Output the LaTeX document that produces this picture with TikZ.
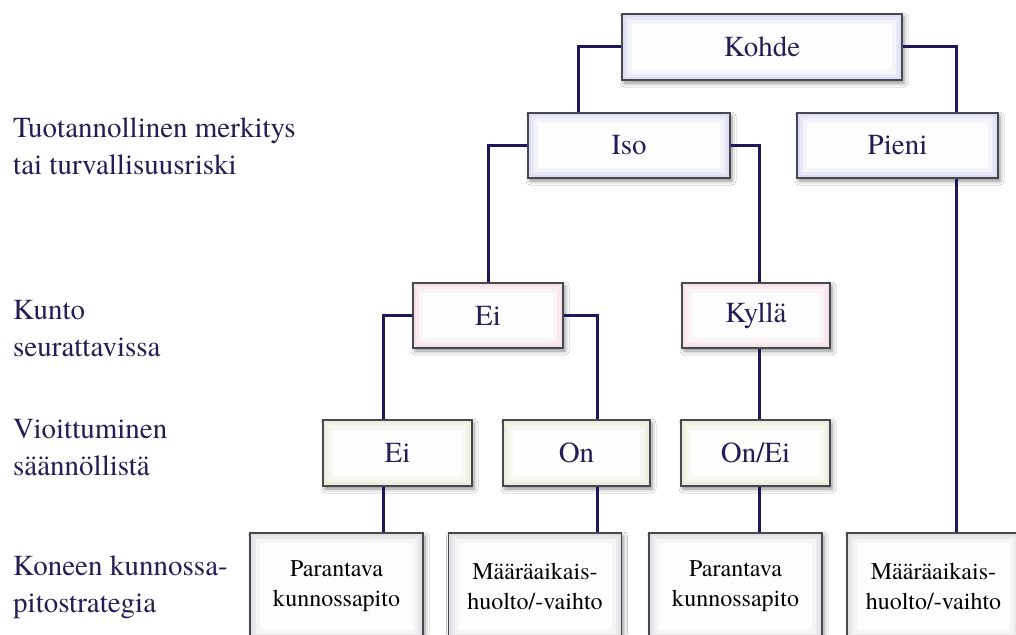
\documentclass[tikz,border=0pt]{standalone}
\usepackage{fontspec}
\IfFontExistsTF{texgyretermes-regular.otf}
	{\setmainfont{texgyretermes-regular.otf}}
	{\setmainfont{Liberation Serif}}
\usetikzlibrary{shadows.blur}
\definecolor{linkcol}{RGB}{28,24,92}
\definecolor{textcol}{RGB}{36,30,86}
\definecolor{framecol}{RGB}{72,72,80}
\definecolor{glowblue}{RGB}{220,220,244}
\definecolor{glowpink}{RGB}{246,224,232}
\definecolor{glowcream}{RGB}{236,236,218}
\definecolor{glowgray}{RGB}{224,224,226}
\tikzset{
	box/.style={draw=framecol, line width=1.2pt, inner sep=0pt, text=textcol,
		font=\fontsize{29}{35}\selectfont,
		blur shadow={shadow xshift=2pt, shadow yshift=-3pt, shadow blur radius=4pt, shadow opacity=45},
		path picture={
			\foreach \gd/\gop in {3/0.35,6/0.55,10/0.85}
			\fill[white, opacity=\gop] ([xshift=\gd pt, yshift=\gd pt]path picture bounding box.south west)
				rectangle ([xshift=-\gd pt, yshift=-\gd pt]path picture bounding box.north east);
		}},
	topbox/.style={box, fill=glowblue},
	pinkbox/.style={box, fill=glowpink, minimum height=65pt},
	creambox/.style={box, fill=glowcream, minimum height=66pt},
	stratbox/.style={box, fill=glowgray, text=black, align=center,
		minimum width=173pt, minimum height=107pt, font=\fontsize{24}{30}\selectfont},
	lbl/.style={anchor=north west, align=left, inner sep=0pt, text=textcol,
		font=\fontsize{29}{37}\selectfont},
	link/.style={draw=linkcol, line width=3pt}
}
\begin{document}
\begin{tikzpicture}[x=1pt, y=-1pt]
		\useasboundingbox (0,0) rectangle (1016,634);
		\fill[white] (0,0) rectangle (1016,634);
		\clip (0,0) rectangle (1016,634);
		
		% line columns
		\coordinate (xa) at (578,0);
		\coordinate (xb) at (956,0);
		\coordinate (xc) at (383,0);
		\coordinate (xd) at (597,0);
		\coordinate (xe) at (759,0);
		
		% row labels
		\node[lbl] (lblmerkitys) at (13,117) {Tuotannollinen merkitys\\tai turvallisuusriski};
		\node[lbl] (lblkunto) at (13,300) {Kunto\\seurattavissa};
		\node[lbl] (lblvioitt) at (13,419) {Vioittuminen\\säännöllistä};
		\node[lbl] (lblstrat) at (13,555) {Koneen kunnossa-\\pitostrategia};
		
		% tree
		\node[topbox, minimum width=280pt, minimum height=66pt] (kohde) at (762,47) {Kohde};
		\node[topbox, minimum width=202pt, minimum height=65pt] (iso) at (629,145.5) {Iso};
		\node[topbox, minimum width=201pt, minimum height=65pt] (pieni) at (897.5,145.5) {Pieni};
		\node[pinkbox, minimum width=150pt] (kuntoei) at (488,315.5) {Ei};
		\node[pinkbox, minimum width=148pt] (kuntokylla) at (756,315.5) {Kyllä};
		\node[creambox, minimum width=149pt] (vioei) at (397.5,453) {Ei};
		\node[creambox, minimum width=147pt] (vioon) at (576.5,453) {On};
		\node[creambox, minimum width=149pt] (vioonei) at (755.5,453) {On/Ei};
		\node[stratbox] (strat1) at (336.5,586.5) {Parantava\\kunnossapito};
		\node[stratbox] (strat2) at (535,586.5) {Määräaikais-\\huolto/-vaihto};
		\node[stratbox] (strat3) at (735.5,586.5) {Parantava\\kunnossapito};
		\node[stratbox] (strat4) at (933.5,586.5) {Määräaikais-\\huolto/-vaihto};
		
		\draw[link] (kohde.west) -| (iso.north -| xa);
		\draw[link] (kohde.east) -| (pieni.north -| xb);
		\draw[link] (iso.west) -| (kuntoei.north);
		\draw[link] (iso.east) -| (kuntokylla.north -| xe);
		\draw[link] (kuntoei.west) -| (vioei.north -| xc);
		\draw[link] (kuntoei.east) -| (vioon.north -| xd);
		\draw[link] (kuntokylla.south -| xe) -- (vioonei.north -| xe);
		\draw[link] (vioei.south -| xc) -- (strat1.north -| xc);
		\draw[link] (vioon.south -| xd) -- (strat2.north -| xd);
		\draw[link] (vioonei.south -| xe) -- (strat3.north -| xe);
		\draw[link] (pieni.south -| xb) -- (strat4.north -| xb);
	\end{tikzpicture}
\end{document}
